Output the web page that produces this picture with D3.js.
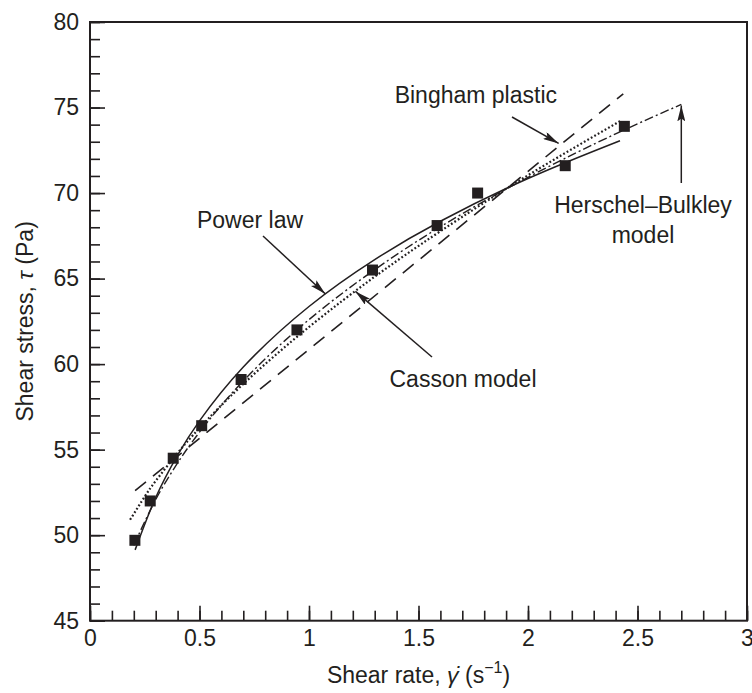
<!DOCTYPE html>
<html>
<head>
<meta charset="utf-8">
<script src="https://cdn.jsdelivr.net/npm/d3@7"></script>
<style>
  html, body { margin: 0; padding: 0; background: #fff; }
  svg { display: block; font-family: "Liberation Sans", Arial, Helvetica, sans-serif; }
</style>
</head>
<body>
<svg id="chart" width="752" height="693"></svg>
<script>
// Measured flow curve: shear rate (1/s) and shear stress (Pa)
const shearRate = [0.205, 0.275, 0.38, 0.51, 0.69, 0.945, 1.29, 1.585, 1.77, 2.17, 2.44];
const shearStress = [49.7, 52.0, 54.5, 56.4, 59.1, 62.0, 65.5, 68.1, 70.0, 71.6, 73.9];

// Fitted rheological models, sampled along each curve
const powerLawRate = [0.206, 0.3, 0.4, 0.5, 0.7, 1.0, 1.3, 1.6, 2.0, 2.42];
const powerLawStress = [49.14, 52.20, 54.68, 56.68, 59.83, 63.37, 66.11, 68.35, 70.85, 73.06];

const hbRate = [0.2, 0.3, 0.4, 0.5, 0.7, 1.0, 1.3, 1.6, 2.0, 2.4, 2.7];
const hbStress = [49.40, 52.08, 54.22, 56.02, 59.02, 62.60, 65.52, 68.03, 70.92, 73.46, 75.18];

const cassonRate = [0.183, 0.25, 0.3, 0.4, 0.5, 0.7, 1.0, 1.3, 1.6, 2.0, 2.423];
const cassonStress = [50.90, 52.26, 53.17, 54.80, 56.26, 58.84, 62.17, 65.11, 67.77, 71.04, 74.22];

const binghamRate = [0.206, 2.435];
const binghamStress = [52.6, 75.8];

// Axis ticks
const xMajorTicks = [0, 0.5, 1, 1.5, 2, 2.5, 3];
const xTickLabels = ["0", "0.5", "1", "1.5", "2", "2.5", "3"];
const yMajorTicks = [45, 50, 55, 60, 65, 70, 75, 80];
const yTickLabels = ["45", "50", "55", "60", "65", "70", "75", "80"];

const svg = d3.select("#chart");
const ink = "#231f20";

const x = d3.scaleLinear().domain([0, 3]).range([90, 747]);
const y = d3.scaleLinear().domain([45, 80]).range([620.7, 22]);

const xMinor = d3.range(0, 31).map(i => i / 10);
const yMinor = d3.range(45, 81);

// Minor ticks (inward)
svg.append("g")
  .attr("transform", `translate(0,${y(45)})`)
  .call(d3.axisBottom(x).tickValues(xMinor).tickSize(-10).tickSizeOuter(0).tickFormat(""))
  .call(g => g.select(".domain").remove());
svg.append("g")
  .attr("transform", `translate(${x(0)},0)`)
  .call(d3.axisLeft(y).tickValues(yMinor).tickSize(-10).tickSizeOuter(0).tickFormat(""))
  .call(g => g.select(".domain").remove());

// Major ticks with labels
svg.append("g")
  .attr("transform", `translate(0,${y(45)})`)
  .call(d3.axisBottom(x).tickValues(xMajorTicks).tickSize(-15).tickSizeOuter(0)
    .tickPadding(9).tickFormat((d, i) => xTickLabels[i]))
  .call(g => g.select(".domain").remove());
svg.append("g")
  .attr("transform", `translate(${x(0)},0)`)
  .call(d3.axisLeft(y).tickValues(yMajorTicks).tickSize(-15).tickSizeOuter(0)
    .tickPadding(11).tickFormat((d, i) => yTickLabels[i]))
  .call(g => g.select(".domain").remove());

svg.selectAll(".tick line").attr("stroke", ink).attr("stroke-width", 1.6);
svg.selectAll(".tick text").attr("fill", ink).attr("font-size", 23)
  .attr("font-family", "Liberation Sans, Arial, sans-serif");

// Plot frame
svg.append("rect")
  .attr("x", x(0)).attr("y", y(80))
  .attr("width", x(3) - x(0)).attr("height", y(45) - y(80))
  .attr("fill", "none").attr("stroke", ink).attr("stroke-width", 2);

// Model curves
const curveLine = (rates, stresses, curve) =>
  d3.line().x((d, i) => x(rates[i])).y((d, i) => y(stresses[i])).curve(curve)(rates);

svg.append("path")
  .attr("d", curveLine(binghamRate, binghamStress, d3.curveLinear))
  .attr("fill", "none").attr("stroke", ink).attr("stroke-width", 1.6)
  .attr("stroke-dasharray", "14 9");

svg.append("path")
  .attr("d", curveLine(cassonRate, cassonStress, d3.curveNatural))
  .attr("fill", "none").attr("stroke", ink).attr("stroke-width", 2.2)
  .attr("stroke-dasharray", "1.8 2.2");

svg.append("path")
  .attr("d", curveLine(hbRate, hbStress, d3.curveNatural))
  .attr("fill", "none").attr("stroke", ink).attr("stroke-width", 1.4)
  .attr("stroke-dasharray", "9 3 2 3");

svg.append("path")
  .attr("d", curveLine(powerLawRate, powerLawStress, d3.curveNatural))
  .attr("fill", "none").attr("stroke", ink).attr("stroke-width", 1.5);

// Measured points
svg.append("g").selectAll("rect")
  .data(shearRate)
  .join("rect")
  .attr("x", (d) => x(d) - 5.5)
  .attr("y", (d, i) => y(shearStress[i]) - 5.5)
  .attr("width", 11).attr("height", 11)
  .attr("fill", ink);

// Annotation arrows
const defs = svg.append("defs");
defs.append("marker")
  .attr("id", "arrowhead")
  .attr("viewBox", "0 0 16 8")
  .attr("refX", 16).attr("refY", 4)
  .attr("markerWidth", 16).attr("markerHeight", 8)
  .attr("markerUnits", "userSpaceOnUse")
  .attr("orient", "auto")
  .append("path")
  .attr("d", "M0,0 L16,4 L0,8 L3,4 Z")
  .attr("fill", ink);

function arrow(x1, y1, x2, y2) {
  svg.append("line")
    .attr("x1", x1).attr("y1", y1).attr("x2", x2).attr("y2", y2)
    .attr("stroke", ink).attr("stroke-width", 1.5)
    .attr("marker-end", "url(#arrowhead)");
}

function label(text, tx, ty, anchor) {
  svg.append("text")
    .attr("x", tx).attr("y", ty)
    .attr("text-anchor", anchor)
    .attr("font-size", 23).attr("fill", ink)
    .text(text);
}

label("Power law", 250, 228, "middle");
arrow(263, 236, x(1.075), y(64.1));

label("Bingham plastic", 557, 103, "end");
arrow(512, 117, x(2.14), y(72.9));

label("Herschel\u2013Bulkley", 643, 213, "middle");
label("model", 643, 243, "middle");
arrow(x(2.7), 183, x(2.7), y(75.18) + 1);

label("Casson model", 463, 387, "middle");
arrow(432, 357, x(1.212), y(64.25));

// Axis titles
const xTitle = svg.append("text")
  .attr("x", (x(0) + x(3)) / 2).attr("y", 683)
  .attr("text-anchor", "middle").attr("font-size", 23).attr("fill", ink);
xTitle.append("tspan").text("Shear rate, ");
xTitle.append("tspan").attr("font-style", "italic").text("\u03B3\u0307");
xTitle.append("tspan").text(" (s");
xTitle.append("tspan").attr("font-size", 16).attr("dy", -10).text("\u22121");
xTitle.append("tspan").attr("dy", 10).text(")");

const yTitle = svg.append("text")
  .attr("transform", `translate(33,${(y(45) + y(80)) / 2}) rotate(-90)`)
  .attr("text-anchor", "middle").attr("font-size", 23).attr("fill", ink);
yTitle.append("tspan").text("Shear stress, ");
yTitle.append("tspan").attr("font-style", "italic").text("\u03C4");
yTitle.append("tspan").text(" (Pa)");
</script>
</body>
</html>
